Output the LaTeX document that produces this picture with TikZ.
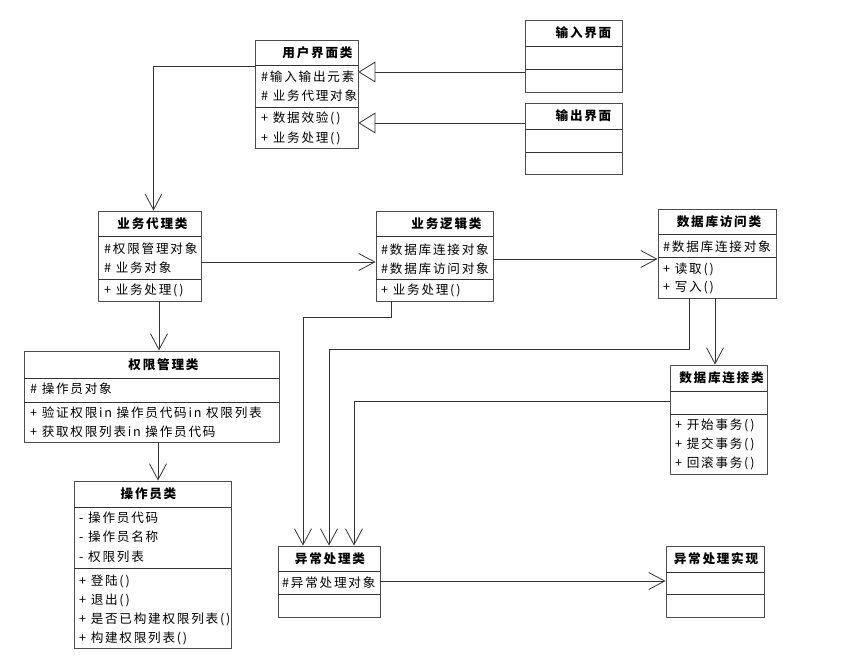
\documentclass[tikz,border=0pt]{standalone}
\usepackage{fontspec}
\setmainfont{Noto Sans CJK SC}[LetterSpace=14]
\usetikzlibrary{arrows.meta,fit}

% class box: [title shift]{name}{left}{top}{right}{bottom}{sep 1}{sep 2}{title}
\newcommand{\umlclass}[9][0]{%
  \node[classbox,fit={(#3,#4) (#5,#6)}] (#2) {};
  \draw[classline] (#3,#7) -- (#5,#7);
  \draw[classline] (#3,#8) -- (#5,#8);
  \node[classtitle] (#2-title) at ({(#3+#5)/2+#1},{(#4+#7)/2}) {#9};
}

\begin{document}
\begin{tikzpicture}[
      x=1pt,y=-1pt,
      classbox/.style={
         draw=black!70,
         line width=0.9pt,
         inner sep=0pt},
      classline/.style={
         draw=black!80,
         line width=0.9pt},
      classtitle/.style={
         inner sep=0pt,
         font=\bfseries\fontsize{12.6}{14}\selectfont},
      member/.style={
         anchor=west,
         inner sep=0pt,
         font=\fontsize{12.6}{14}\selectfont},
      dep/.style={
         -{Straight Barb[length=16pt,width=17pt]},
         draw=black!80,
         line width=0.8pt},
      realize/.style={
         -{Triangle[open,length=17pt,width=21pt,fill=white]},
         draw=black!80,
         line width=0.8pt}
]
      \useasboundingbox (0,0) rectangle (850,660);

      % classes
      \umlclass[11]{ui}{255}{40}{358}{148}{65}{107}{用户界面类}
      \umlclass[10]{inui}{525}{20}{622}{92}{46}{69}{输入界面}
      \umlclass[10]{outui}{525}{103}{622}{174}{129}{152}{输出界面}
      \umlclass[3]{agent}{98}{211}{201}{301}{236}{279}{业务代理类}
      \umlclass[12]{logic}{376}{211}{493}{301}{236}{279}{业务逻辑类}
      \umlclass[2]{dbaccess}{658}{209}{776}{298}{234}{257}{数据库访问类}
      \umlclass[12]{perm}{24}{351}{279}{442}{378}{402}{权限管理类}
      \umlclass[-4]{operator}{74}{481}{231}{648}{507}{568}{操作员类}
      \umlclass[3]{dbconn}{670}{365}{767}{474}{391}{414}{数据库连接类}
      \umlclass[1]{exc}{278}{546}{380}{617}{571}{594}{异常处理类}
      \umlclass[1]{excimpl}{666}{546}{764}{617}{572}{594}{异常处理实现}

      % attributes and operations
      \foreach \x/\y/\t [count=\i] in {% left/row/text
        261/77/{\#输入输出元素}, 261/96/{\# 业务代理对象},
        261/118/{+ 数据效验()}, 261/138/{+ 业务处理()},
        104/249/{\#权限管理对象}, 104/268/{\# 业务对象}, 104/290/{+ 业务处理()},
        381/250/{\#数据库连接对象}, 381/269/{\#数据库访问对象}, 381/290/{+ 业务处理()},
        663/247/{\#数据库连接对象}, 663/269/{+ 读取()}, 663/288/{+ 写入()},
        30/389/{\# 操作员对象},
        30/413/{+ 验证权限in 操作员代码in 权限列表},
        30/432/{+ 获取权限列表in 操作员代码},
        79/518/{- 操作员代码}, 79/537/{- 操作员名称}, 79/557/{- 权限列表},
        79/581/{+ 登陆()}, 79/600/{+ 退出()},
        79/619/{+ 是否已构建权限列表()}, 79/638/{+ 构建权限列表()},
        675/425/{+ 开始事务()}, 675/444/{+ 提交事务()}, 675/463/{+ 回滚事务()},
        282/583/{\#异常处理对象}}
      \node[member] (m\i) at (\x,\y) {\t};

      % generalisation
      \foreach \a/\b in {inui/72, outui/123}
      \draw[realize] (\a.west |- 0,\b) -- (ui.east |- 0,\b);

      % dependencies
      \draw[dep] (ui.west |- 0,66) -| ([xshift=4pt]agent.north);
      \draw[dep] (agent.east |- 0,262) -- (logic.west |- 0,262);
      \draw[dep] (logic.east |- 0,259) -- (dbaccess.west |- 0,259);
      \draw[dep] (agent.south -| 159,0) -- (perm.north -| 159,0);
      \draw[dep] (perm.south -| 158,0) -- (operator.north -| 158,0);
      \draw[dep] (dbaccess.south -| 715,0) -- (dbconn.north -| 715,0);
      \draw[dep] (logic.south -| 391,0) |- (303,317) -- (exc.north -| 303,0);
      \draw[dep] (dbaccess.south -| 689,0) |- (329,349) -- (exc.north -| 329,0);
      \draw[dep] (dbconn.west |- 0,401) -| (exc.north -| 354,0);
      \draw[dep] (exc.east |- 0,581) -- (excimpl.west |- 0,581);
\end{tikzpicture}
\end{document}
